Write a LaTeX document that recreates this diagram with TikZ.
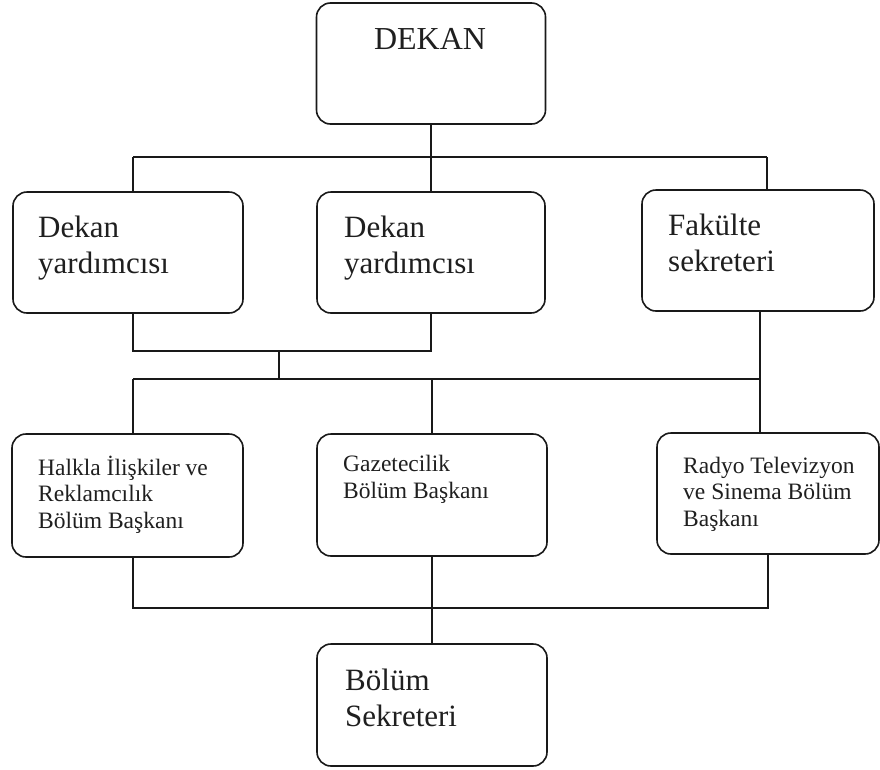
\documentclass[tikz,border=0pt]{standalone}
\usepackage{fontspec}
\setmainfont{Liberation Serif}
\begin{document}
\begin{tikzpicture}[x=1pt,y=-1pt,
  box/.style={draw=black!90,line width=1.6pt,rounded corners=14pt,rectangle,inner sep=0pt},
  bigtxt/.style={anchor=base west,align=left,inner sep=0pt,font=\fontsize{31}{36}\selectfont,text=black!88},
  smalltxt/.style={anchor=base west,align=left,inner sep=0pt,font=\fontsize{23.5}{26.5}\selectfont,text=black!88},
  conn/.style={draw=black!90,line width=1.6pt}]
\useasboundingbox (0,0) rectangle (880,769);
% boxes
\node[box,minimum width=229pt,minimum height=121pt] (dekan) at (431,63.5) {};
\node[box,minimum width=230pt,minimum height=121pt] (dy1) at (128,252.5) {};
\node[box,minimum width=228pt,minimum height=121pt] (dy2) at (431,252.5) {};
\node[box,minimum width=232pt,minimum height=121pt] (fs) at (758,250.5) {};
\node[box,minimum width=231pt,minimum height=123pt] (hk) at (127.5,495.5) {};
\node[box,minimum width=230pt,minimum height=122pt] (gz) at (432,495) {};
\node[box,minimum width=222pt,minimum height=121pt] (rt) at (768,493.5) {};
\node[box,minimum width=230pt,minimum height=122pt] (bs) at (432,705) {};
% texts (base anchor = baseline of the last line)
\node[anchor=base,inner sep=0pt,font=\fontsize{32}{38}\selectfont,text=black!88] (dekant) at (430,49) {DEKAN};
\node[bigtxt] (dy1t) at (38,273) {Dekan\\yardımcısı};
\node[bigtxt] (dy2t) at (344,273) {Dekan\\yardımcısı};
\node[bigtxt] (fst) at (668,271) {Fakülte\\sekreteri};
\node[smalltxt] (hkt) at (38,528) {Halkla İlişkiler ve\\Reklamcılık\\Bölüm Başkanı};
\node[smalltxt] (gzt) at (343,498) {Gazetecilik\\Bölüm Başkanı};
\node[smalltxt] (rtt) at (683,526) {Radyo Televizyon\\ve Sinema Bölüm\\Başkanı};
\node[bigtxt] (bst) at (345,726) {Bölüm\\Sekreteri};
% junction coordinates
\coordinate (h1L) at (133,157);
\coordinate (h1R) at (767,157);
\coordinate (j1L) at (133,351);
\coordinate (j1R) at (431,351);
\coordinate (jm) at (279,351);
\coordinate (h2L) at (133,379);
\coordinate (h2R) at (760,379);
\coordinate (h3L) at (133,608);
\coordinate (h3R) at (768,608);
% connectors
\draw[conn] (dekan.south) -- (dekan.south |- h1L);
\draw[conn] (h1L) -- (h1R);
\draw[conn] (h1L) -- (h1L |- dy1.north);
\draw[conn] (dy2.north |- h1L) -- (dy2.north);
\draw[conn] (h1R) -- (h1R |- fs.north);
\draw[conn] (dy1.south -| j1L) -- (j1L) -- (j1R) -- (dy2.south);
\draw[conn] (jm) -- (jm |- h2L);
\draw[conn] (h2L) -- (h2R);
\draw[conn] (fs.south -| h2R) -- (h2R);
\draw[conn] (h2L) -- (h2L |- hk.north);
\draw[conn] (gz.north |- h2L) -- (gz.north);
\draw[conn] (h2R) -- (h2R |- rt.north);
\draw[conn] (hk.south -| h3L) -- (h3L) -- (h3R) -- (rt.south -| h3R);
\draw[conn] (gz.south) -- (bs.north);
\end{tikzpicture}
\end{document}
